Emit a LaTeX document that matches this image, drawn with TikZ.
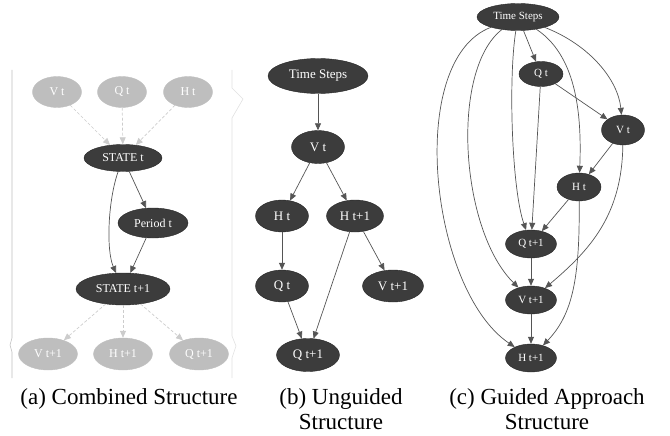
\documentclass[tikz,border=0pt]{standalone}
\usepackage{fontspec}
\setmainfont{Liberation Serif}
\usetikzlibrary{shapes.geometric,arrows.meta}
\definecolor{nodedark}{HTML}{3C3C3C}
\definecolor{nodegray}{HTML}{BEBEBE}
\definecolor{edgedark}{HTML}{555555}
\definecolor{edgegray}{HTML}{CCCCCC}

\begin{document}
\begin{tikzpicture}[x=1pt,y=-1pt]
\tikzstyle{dark}=[ellipse,draw=black!85,fill=nodedark,text=white,inner sep=0pt,minimum height=30pt]
\tikzstyle{grey}=[ellipse,draw=nodegray,fill=nodegray,text=white,inner sep=0pt,minimum height=31pt]
\tikzstyle{arr}=[draw=edgedark,line width=0.7pt,-{Triangle[length=7pt,width=6pt]}]
\tikzstyle{darr}=[draw=edgegray,line width=0.7pt,dash pattern=on 3pt off 2pt,-{Triangle[length=7pt,width=6pt]}]
\tikzstyle{caption}=[font=\fontsize{23}{25}\selectfont,align=center,anchor=north,inner sep=0pt]
\useasboundingbox (0,0) rectangle (670,436);
% frame marks
\draw[black!25,line width=0.6pt] (12,70) -- (12,338) -- (10,345) -- (12,352) -- (12,378);
\draw[black!12,line width=0.6pt] (232,70) -- (232,88) -- (243,99) -- (232,118) -- (232,336) -- (236,346) -- (232,358) -- (232,378);
% (a)
\begin{scope}[every node/.append style={font=\fontsize{12}{14}\selectfont}]
\node[grey,minimum width=49pt] (aV) at (57,92) {V t};
\node[grey,minimum width=49pt] (aQ) at (122,92) {Q t};
\node[grey,minimum width=49pt] (aH) at (188,92) {H t};
\node[dark,minimum width=78pt,minimum height=27pt] (aS) at (123,158) {STATE t};
\node[dark,minimum width=70pt] (aP) at (153,223) {Period t};
\node[dark,minimum width=94pt,minimum height=32pt] (aSn) at (123,289) {STATE t+1};
\node[grey,minimum width=59pt,minimum height=32pt] (aVn) at (48,354) {V t+1};
\node[grey,minimum width=59pt,minimum height=32pt] (aHn) at (123,354) {H t+1};
\node[grey,minimum width=59pt,minimum height=32pt] (aQn) at (199,354) {Q t+1};
\end{scope}
\draw[darr] (aV) -- (aS);
\draw[darr] (aQ) -- (aS);
\draw[darr] (aH) -- (aS);
\draw[arr] (aS) -- (aP);
\draw[arr] (aP) -- (aSn);
\draw[arr] (aS) .. controls (108,200) and (106,250) .. (aSn);
\draw[darr] (aSn) -- (aVn);
\draw[darr] (aSn) -- (aHn);
\draw[darr] (aSn) -- (aQn);
% (b)
\begin{scope}[every node/.append style={font=\fontsize{13}{15}\selectfont}]
\node[dark,minimum width=100pt,minimum height=35pt] (bT) at (318,76) {Time Steps};
\node[dark,minimum width=53pt,minimum height=33pt] (bV) at (318,147) {V t};
\node[dark,minimum width=53pt,minimum height=32pt] (bH) at (282,216) {H t};
\node[dark,minimum width=57pt,minimum height=32pt] (bHn) at (355,216) {H t+1};
\node[dark,minimum width=53pt,minimum height=32pt] (bQ) at (282,286) {Q t};
\node[dark,minimum width=61pt,minimum height=32pt] (bVn) at (393,286) {V t+1};
\node[dark,minimum width=63pt,minimum height=33pt] (bQn) at (308,355) {Q t+1};
\end{scope}
\draw[arr] (bT) -- (bV);
\draw[arr] (bV) -- (bH);
\draw[arr] (bV) -- (bHn);
\draw[arr] (bH) -- (bQ);
\draw[arr] (bQ) -- (bQn);
\draw[arr] (bHn) -- (bQn);
\draw[arr] (bHn) -- (bVn);
% (c)
\begin{scope}[every node/.append style={font=\fontsize{11}{13}\selectfont}]
\node[dark,minimum width=82pt,minimum height=27pt] (cT) at (518,17) {Time Steps};
\node[dark,minimum width=44pt,minimum height=25pt] (cQ) at (541,74) {Q t};
\node[dark,minimum width=43pt,minimum height=30pt] (cV) at (623,130) {V t};
\node[dark,minimum width=44pt,minimum height=28pt] (cH) at (579,187) {H t};
\node[dark,minimum width=51pt,minimum height=28pt] (cQn) at (531,244) {Q t+1};
\node[dark,minimum width=51pt,minimum height=28pt] (cVn) at (531,300) {V t+1};
\node[dark,minimum width=51pt,minimum height=28pt] (cHn) at (531,358) {H t+1};
\end{scope}
\draw[arr] (cT) .. controls (405,60) and (430,290) .. (cHn);
\draw[arr] (cT) .. controls (450,70) and (460,230) .. (cVn);
\draw[arr] (cT) .. controls (508,80) and (512,190) .. (cQn);
\draw[arr] (cT) -- (cQ);
\draw[arr] (cT) .. controls (575,55) and (582,110) .. (cH);
\draw[arr] (cT) .. controls (590,45) and (618,80) .. (cV);
\draw[arr] (cQ) -- (cV);
\draw[arr] (cQ) -- (cQn);
\draw[arr] (cV) -- (cH);
\draw[arr] (cV) .. controls (622,215) and (590,250) .. (cVn);
\draw[arr] (cH) -- (cQn);
\draw[arr] (cH) .. controls (580,280) and (572,315) .. (cHn);
\draw[arr] (cQn) -- (cVn);
\draw[arr] (cVn) -- (cHn);
% captions
\node[caption] (capa) at (129,388) {(a) Combined Structure};
\node[caption] (capb) at (341,388) {(b) Unguided\\Structure};
\node[caption] (capc) at (547,388) {(c) Guided Approach\\Structure};
\end{tikzpicture}
\end{document}
